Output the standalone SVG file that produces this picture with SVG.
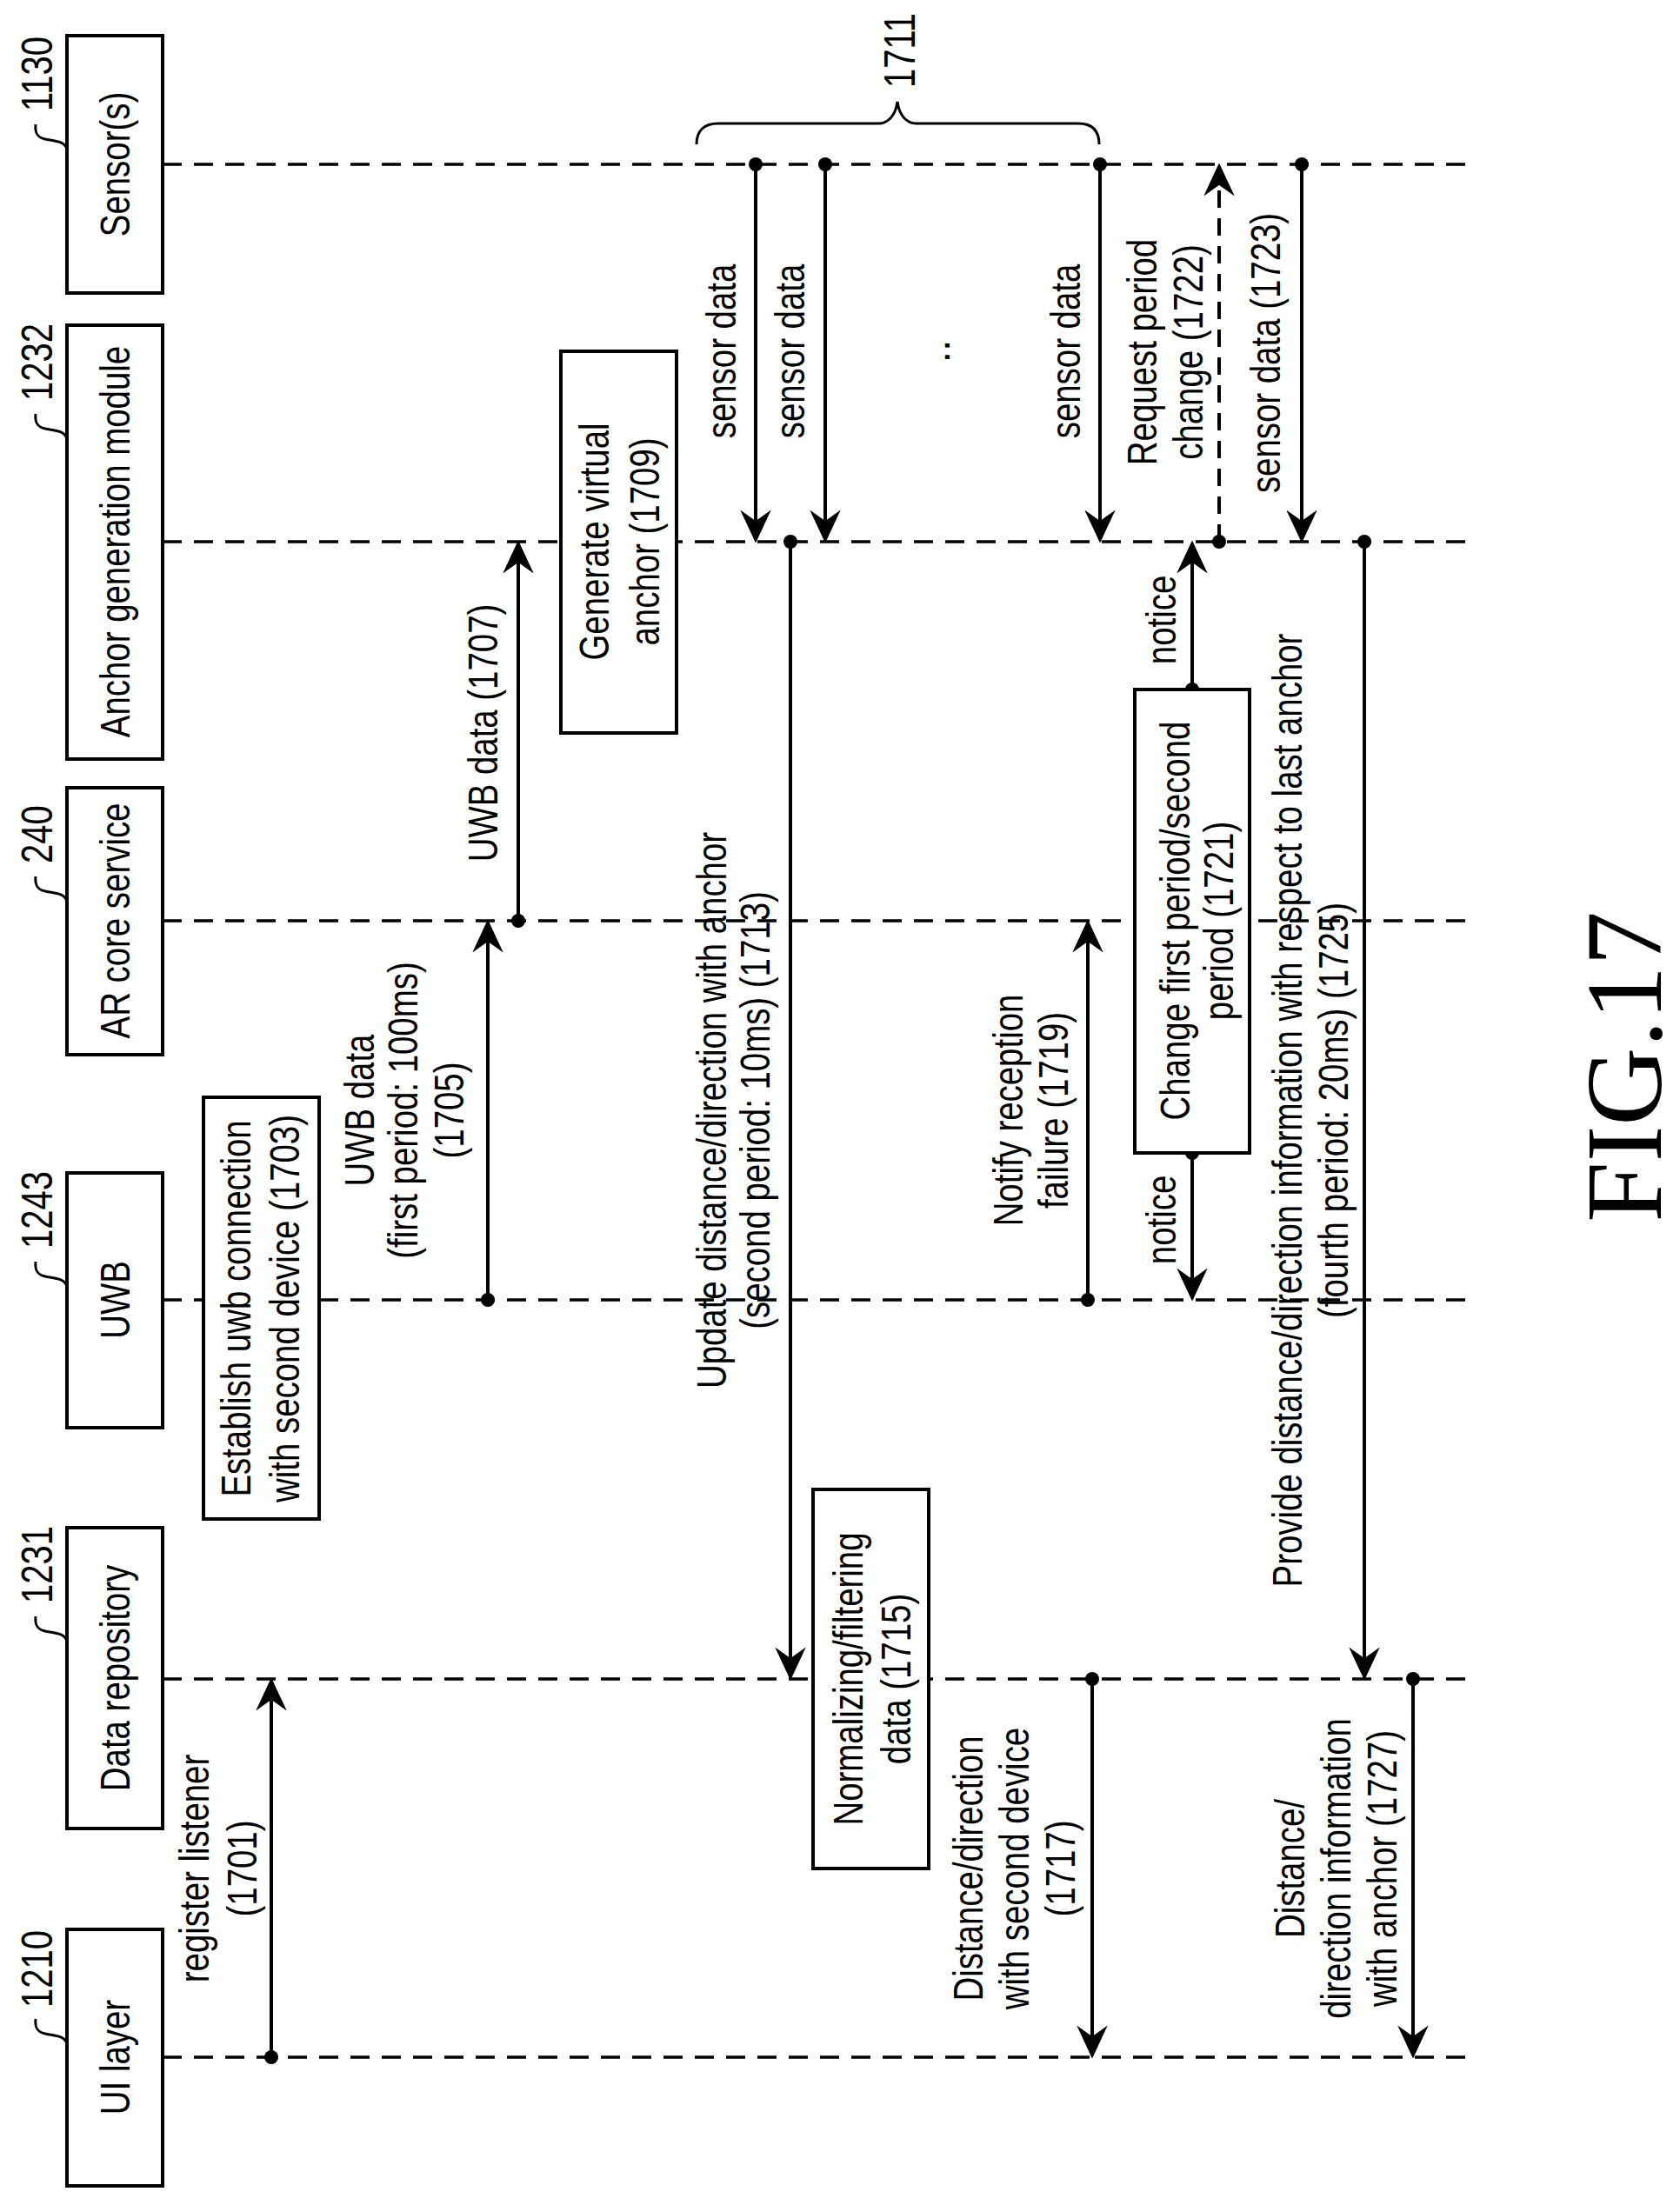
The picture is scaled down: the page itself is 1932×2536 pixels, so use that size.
<svg xmlns="http://www.w3.org/2000/svg" width="1932" height="2536" viewBox="0 0 1932 2536">
<style>
.t{font-family:"Liberation Sans",Arial,sans-serif;font-size:48px;fill:#000;text-anchor:middle}
.n{font-family:"Liberation Sans",Arial,sans-serif;font-size:50px;fill:#000;text-anchor:start}
.box{fill:#fff;stroke:#000;stroke-width:4}
.life{stroke:#000;stroke-width:3.5;stroke-dasharray:22 14;fill:none}
.msg{stroke:#000;stroke-width:4;fill:none;marker-end:url(#ah)}
.dash{stroke-dasharray:20 12}
.sq{stroke:#000;stroke-width:3;fill:none}
</style>
<defs>
<marker id="ah" markerUnits="userSpaceOnUse" viewBox="-34 -18 40 36" refX="0" refY="0" markerWidth="40" markerHeight="36" orient="auto">
<path d="M0,0 L-30,-14 L-20,0 L-30,14 Z" fill="#000" stroke="#000" stroke-width="3" stroke-linejoin="miter"/>
</marker>
</defs>
<rect width="1932" height="2536" fill="#fff"/>
<g id="lifelines">
<line class="life" x1="187" y1="189" x2="1690" y2="189"/>
<line class="life" x1="187" y1="623" x2="1690" y2="623"/>
<line class="life" x1="187" y1="1059" x2="1690" y2="1059"/>
<line class="life" x1="187" y1="1495" x2="1690" y2="1495"/>
<line class="life" x1="187" y1="1931" x2="1690" y2="1931"/>
<line class="life" x1="187" y1="2366" x2="1690" y2="2366"/>
</g>
<g id="sensor">
<rect class="box" x="77" y="41" width="110" height="296"/>
<text class="t" transform="translate(149,189) rotate(-90) scale(0.8,1)">Sensor(s)</text>
<text class="n" transform="translate(60,128) rotate(-90) scale(0.8,1)">1130</text>
<path class="sq" d="M77,172 C75,162 62,162 52,160 C42,158 40,152 41,143"/>
</g>
<g id="anchor-module">
<rect class="box" x="77" y="374" width="110" height="499"/>
<text class="t" transform="translate(149,623) rotate(-90) scale(0.8,1)">Anchor generation module</text>
<text class="n" transform="translate(60,461) rotate(-90) scale(0.8,1)">1232</text>
<path class="sq" d="M77,505 C75,495 62,495 52,493 C42,491 40,485 41,476"/>
</g>
<g id="ar-core">
<rect class="box" x="77" y="906" width="110" height="307"/>
<text class="t" transform="translate(149,1059) rotate(-90) scale(0.8,1)">AR core service</text>
<text class="n" transform="translate(60,993) rotate(-90) scale(0.8,1)">240</text>
<path class="sq" d="M77,1037 C75,1027 62,1027 52,1025 C42,1023 40,1017 41,1008"/>
</g>
<g id="uwb">
<rect class="box" x="77" y="1349" width="110" height="293"/>
<text class="t" transform="translate(149,1495) rotate(-90) scale(0.8,1)">UWB</text>
<text class="n" transform="translate(60,1436) rotate(-90) scale(0.8,1)">1243</text>
<path class="sq" d="M77,1480 C75,1470 62,1470 52,1468 C42,1466 40,1460 41,1451"/>
</g>
<g id="data-repo">
<rect class="box" x="77" y="1757" width="110" height="346"/>
<text class="t" transform="translate(149,1930) rotate(-90) scale(0.8,1)">Data repository</text>
<text class="n" transform="translate(60,1844) rotate(-90) scale(0.8,1)">1231</text>
<path class="sq" d="M77,1888 C75,1878 62,1878 52,1876 C42,1874 40,1868 41,1859"/>
</g>
<g id="ui-layer">
<rect class="box" x="77" y="2219" width="110" height="295"/>
<text class="t" transform="translate(149,2366) rotate(-90) scale(0.8,1)">UI layer</text>
<text class="n" transform="translate(60,2309) rotate(-90) scale(0.8,1)">1210</text>
<path class="sq" d="M77,2351 C75,2341 62,2341 52,2339 C42,2337 40,2331 41,2322"/>
</g>
<g id="connectors">
<line class="msg" x1="312" y1="2366" x2="312" y2="1933"/>
<line class="msg" x1="561" y1="1495" x2="561" y2="1061"/>
<line class="msg" x1="596" y1="1059" x2="596" y2="625"/>
<line class="msg" x1="869" y1="189" x2="869" y2="621"/>
<line class="msg" x1="949" y1="189" x2="949" y2="621"/>
<line class="msg" x1="1265" y1="189" x2="1265" y2="621"/>
<line class="msg" x1="909" y1="623" x2="909" y2="1929"/>
<line class="msg" x1="1256" y1="1931" x2="1256" y2="2364"/>
<line class="msg" x1="1251" y1="1495" x2="1251" y2="1061"/>
<line class="msg" x1="1371" y1="793" x2="1371" y2="625"/>
<line class="msg" x1="1371" y1="1326" x2="1371" y2="1493"/>
<line class="msg dash" x1="1402" y1="623" x2="1402" y2="191"/>
<line class="msg" x1="1497" y1="189" x2="1497" y2="621"/>
<line class="msg" x1="1569" y1="623" x2="1569" y2="1929"/>
<line class="msg" x1="1625" y1="1931" x2="1625" y2="2364"/>
<g fill="#000">
<circle cx="312" cy="2366" r="8"/><circle cx="561" cy="1495" r="8"/><circle cx="596" cy="1059" r="8"/>
<circle cx="869" cy="189" r="8"/><circle cx="949" cy="189" r="8"/><circle cx="1265" cy="189" r="8"/>
<circle cx="909" cy="623" r="8"/><circle cx="1256" cy="1931" r="8"/><circle cx="1251" cy="1495" r="8"/>
<circle cx="1371" cy="793" r="8"/><circle cx="1371" cy="1326" r="8"/><circle cx="1402" cy="623" r="8"/>
<circle cx="1497" cy="189" r="8"/><circle cx="1569" cy="623" r="8"/><circle cx="1625" cy="1931" r="8"/>
</g>
<path class="sq" stroke-width="4" d="M801,166 C801,150 810,142 826,142 L1010,142 C1022,142 1030,132 1032,117 C1034,132 1042,142 1054,142 L1240,142 C1256,142 1264,150 1264,166"/>
</g>
<g id="establish-1703">
<rect class="box" x="234" y="1262" width="133" height="485"/>
<text class="t" transform="translate(288,1505) rotate(-90) scale(0.8,1)">Establish uwb connection<tspan x="0" dy="56">with second device (1703)</tspan></text>
</g>
<g id="generate-1709">
<rect class="box" x="645" y="404" width="133" height="439"/>
<text class="t" transform="translate(700,623) rotate(-90) scale(0.8,1)">Generate virtual<tspan x="0" dy="58">anchor (1709)</tspan></text>
</g>
<g id="normalize-1715">
<rect class="box" x="935" y="1713" width="133" height="436"/>
<text class="t" transform="translate(992,1931) rotate(-90) scale(0.8,1)">Normalizing/filtering<tspan x="0" dy="55">data (1715)</tspan></text>
</g>
<g id="change-1721">
<rect class="box" x="1305" y="793" width="132" height="533"/>
<text class="t" transform="translate(1368,1059) rotate(-90) scale(0.8,1)">Change first period/second<tspan x="0" dy="50">period (1721)</tspan></text>
</g>
<g id="labels">
<text class="t" transform="translate(240,2149) rotate(-90) scale(0.8,1)">register listener<tspan x="0" dy="55">(1701)</tspan></text>
<text class="t" transform="translate(430,1277) rotate(-90) scale(0.8,1)">UWB data<tspan x="0" dy="50">(first period: 100ms)</tspan><tspan x="0" dy="53">(1705)</tspan></text>
<text class="t" transform="translate(572,843) rotate(-90) scale(0.8,1)">UWB data (1707)</text>
<text class="n" transform="translate(1052,101) rotate(-90) scale(0.8,1)">1711</text>
<text class="t" transform="translate(846,404) rotate(-90) scale(0.8,1)">sensor data</text>
<text class="t" transform="translate(925,404) rotate(-90) scale(0.8,1)">sensor data</text>
<text class="t" transform="translate(1242,404) rotate(-90) scale(0.8,1)">sensor data</text>
<text class="t" transform="translate(1092,404) rotate(-90)">..</text>
<text class="t" transform="translate(835,1277) rotate(-90) scale(0.8,1)">Update distance/direction with anchor<tspan x="0" dy="50">(second period: 10ms) (1713)</tspan></text>
<text class="t" transform="translate(1130,2149) rotate(-90) scale(0.8,1)">Distance/direction<tspan x="0" dy="53">with second device</tspan><tspan x="0" dy="53">(1717)</tspan></text>
<text class="t" transform="translate(1176,1277) rotate(-90) scale(0.8,1)">Notify reception<tspan x="0" dy="52">failure (1719)</tspan></text>
<text class="t" transform="translate(1352,713) rotate(-90) scale(0.8,1)">notice</text>
<text class="t" transform="translate(1352,1403) rotate(-90) scale(0.8,1)">notice</text>
<text class="t" transform="translate(1330,405) rotate(-90) scale(0.8,1)">Request period<tspan x="0" dy="53">change (1722)</tspan></text>
<text class="t" transform="translate(1472,406) rotate(-90) scale(0.8,1)">sensor data (1723)</text>
<text class="t" transform="translate(1497,1277) rotate(-90) scale(0.8,1)">Provide distance/direction information with respect to last anchor<tspan x="0" dy="53">(fourth period: 20ms) (1725)</tspan></text>
<text class="t" transform="translate(1500,2149) rotate(-90) scale(0.8,1)">Distance/<tspan x="0" dy="53">direction information</tspan><tspan x="0" dy="53">with anchor (1727)</tspan></text>
<text transform="translate(1910,1227) rotate(-90)" font-family="Liberation Serif,Times New Roman,serif" font-size="125" text-anchor="middle">FIG.17</text>
</g>
</svg>
